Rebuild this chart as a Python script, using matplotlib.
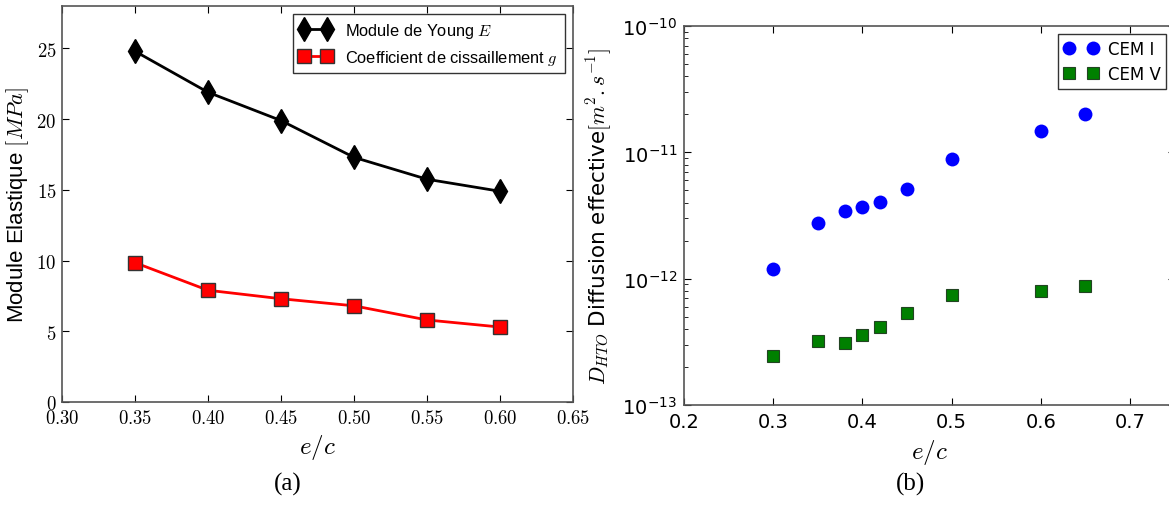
import matplotlib
matplotlib.use("Agg")
import matplotlib.pyplot as plt
from matplotlib.ticker import NullFormatter, LogLocator

plt.rcParams['mathtext.fontset'] = 'cm'

# ── données (a) ───────────────────────────────────────────
ec_a = [0.35, 0.40, 0.45, 0.50, 0.55, 0.60]
young_E = [24.8, 21.9, 19.9, 17.3, 15.75, 14.9]
cisaill_g = [9.85, 7.9, 7.3, 6.8, 5.8, 5.3]
xticks_a = [0.30, 0.35, 0.40, 0.45, 0.50, 0.55, 0.60, 0.65]
yticks_a = [0, 5, 10, 15, 20, 25]

# ── données (b) ───────────────────────────────────────────
ec_b = [0.30, 0.35, 0.38, 0.40, 0.42, 0.45, 0.50, 0.60, 0.65]
cem1 = [1.19e-12, 2.77e-12, 3.44e-12, 3.68e-12, 4.05e-12, 5.16e-12, 8.8e-12, 1.47e-11, 2.0e-11]
cem5 = [2.44e-13, 3.22e-13, 3.07e-13, 3.61e-13, 4.15e-13, 5.36e-13, 7.43e-13, 8.04e-13, 8.7e-13]
xticks_b = [0.2, 0.3, 0.4, 0.5, 0.6, 0.7]
yticks_b = [1e-13, 1e-12, 1e-11, 1e-10]
ylabels_b = ['$10^{-13}$', '$10^{-12}$', '$10^{-11}$', '$10^{-10}$']

fig = plt.figure(figsize=(11.69, 5.06), dpi=100)
ax1 = fig.add_axes([0.053, 0.2036, 0.4371, 0.7826])
ax2 = fig.add_axes([0.5851, 0.1976, 0.4197, 0.749])

SANS = 'Liberation Sans'

# ── (a) ───────────────────────────────────────────────────
ax1.plot(ec_a, young_E, color='black', lw=2, marker='d', ms=12,
         mfc='black', mec='black', label='Module de Young $E$')
ax1.plot(ec_a, cisaill_g, color='red', lw=2, marker='s', ms=9.5,
         mfc='red', mec='#333333', mew=1, label='Coefficient de cissaillement $g$')
ax1.set_xlim(0.30, 0.65)
ax1.set_ylim(0, 28)
ax1.set_xticks(xticks_a, ['$%.2f$' % v for v in xticks_a], fontsize=13.5)
ax1.set_yticks(yticks_a, ['$%d$' % v for v in yticks_a], fontsize=13.5)
ax1.set_xlabel('$e/c$', fontsize=18)
ax1.set_ylabel('Module Elastique $[MPa]$', fontsize=16, family=SANS, labelpad=4)
ax1.tick_params(direction='in', top=True, right=True, length=5, pad=4)
leg1 = ax1.legend(loc='upper right', numpoints=2, fancybox=False, framealpha=1,
                  edgecolor='#333333', prop={'family': SANS, 'size': 11.8},
                  borderaxespad=0.5, handlelength=2.0)
leg1.get_frame().set_linewidth(1)

# ── (b) ───────────────────────────────────────────────────
ax2.plot(ec_b, cem1, ls='none', marker='o', ms=10, mfc='blue', mec='none', label='CEM I')
ax2.plot(ec_b, cem5, ls='none', marker='s', ms=9, mfc='green', mec='#224422',
         mew=0.8, label='CEM V')
ax2.set_yscale('log')
ax2.set_xlim(0.2, 0.75)
ax2.set_ylim(1e-13, 1e-10)
ax2.set_xticks(xticks_b, [str(v) for v in xticks_b], fontsize=14, family='DejaVu Sans')
ax2.set_yticks(yticks_b, ylabels_b, fontsize=14)
for lab in ax2.get_yticklabels():
    lab.set_math_fontfamily('dejavusans')
ax2.yaxis.set_minor_locator(LogLocator(base=10, subs=range(2, 10)))
ax2.yaxis.set_minor_formatter(NullFormatter())
ax2.set_xlabel('$e/c$', fontsize=18)
ax2.set_ylabel('$D_{HTO}$ Diffusion effective$[m^2.s^{-1}]$', fontsize=15.5,
               family='DejaVu Sans', labelpad=6)
ax2.tick_params(which='both', direction='in', top=True, right=True)
ax2.tick_params(which='major', length=5, pad=5)
ax2.tick_params(which='minor', length=3)
leg2 = ax2.legend(loc='upper right', numpoints=2, fancybox=False, framealpha=1,
                  edgecolor='#333333', prop={'family': 'DejaVu Sans', 'size': 12},
                  borderaxespad=0.5, handlelength=2.0, handletextpad=0.6,
                  labelspacing=0.4, borderpad=0.35)
leg2.get_frame().set_linewidth(1)

for ax in (ax1, ax2):
    for sp in ax.spines.values():
        sp.set_color('#555555')
        sp.set_linewidth(1.2)

fig.text(0.246, 0.03, '(a)', fontsize=18, family='Liberation Serif', ha='center')
fig.text(0.779, 0.03, '(b)', fontsize=18, family='Liberation Serif', ha='center')

fig.savefig('out.png', dpi=100)
